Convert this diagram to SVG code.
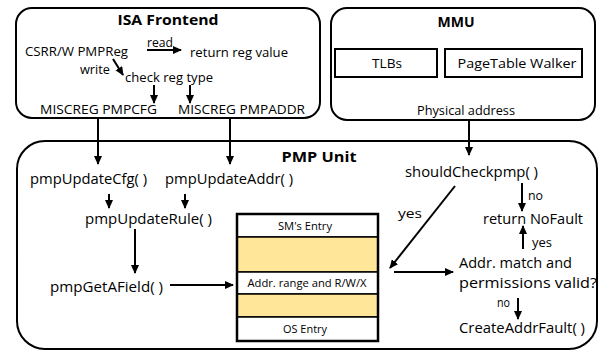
<svg xmlns="http://www.w3.org/2000/svg" width="600" height="352" viewBox="0 0 600 352">
<style>
.box{fill:#fff;stroke:#000;stroke-width:2}
.t{font-family:"Open Sans","Liberation Sans",sans-serif;fill:#000}
.s13{font-size:13px}
.s14{font-size:14px}
.s11{font-size:10.5px}
.b{font-weight:bold;font-size:15px}
.c{stroke:#000;stroke-width:2;fill:none;marker-end:url(#ah)}
.row{fill:#fff;stroke:#000;stroke-width:1.5}
.yel{fill:#FFE699;stroke:#000;stroke-width:1.5}
</style>
<defs>
<marker id="ah" markerUnits="userSpaceOnUse" markerWidth="9" markerHeight="8" refX="8" refY="4" orient="auto">
<path d="M0,0 L9,4 L0,8 Z" fill="#000"/>
</marker>
</defs>
<rect x="0" y="0" width="600" height="352" fill="#fff"/>

<g id="isa-frontend">
<rect class="box" x="16" y="8" width="304" height="110" rx="16"/>
<text class="t b" x="168" y="25" text-anchor="middle" textLength="101" lengthAdjust="spacingAndGlyphs">ISA Frontend</text>
<text class="t s13" x="25" y="56" textLength="103" lengthAdjust="spacingAndGlyphs">CSRR/W PMPReg</text>
<text class="t s13" x="147" y="47" textLength="26" lengthAdjust="spacingAndGlyphs">read</text>
<text class="t s13" x="190" y="57" textLength="98" lengthAdjust="spacingAndGlyphs">return reg value</text>
<text class="t" style="font-size:12.5px" x="80" y="74" textLength="30" lengthAdjust="spacingAndGlyphs">write</text>
<text class="t s13" x="125" y="82" textLength="88" lengthAdjust="spacingAndGlyphs">check reg type</text>
<text class="t s13" x="40" y="114" textLength="117" lengthAdjust="spacingAndGlyphs">MISCREG  PMPCFG</text>
<text class="t s13" x="178" y="114" textLength="127" lengthAdjust="spacingAndGlyphs">MISCREG  PMPADDR</text>
</g>

<g id="mmu">
<rect class="box" x="331" y="8" width="264" height="112" rx="16"/>
<text class="t b" x="456" y="27" text-anchor="middle" textLength="37" lengthAdjust="spacingAndGlyphs">MMU</text>
<g id="tlbs">
<rect x="335" y="49" width="102" height="28" fill="#fff" stroke="#000" stroke-width="2"/>
<text class="t s13" x="387" y="68" text-anchor="middle" textLength="30" lengthAdjust="spacingAndGlyphs">TLBs</text>
</g>
<g id="pagetable-walker">
<rect x="445" y="49" width="137" height="28" fill="#fff" stroke="#000" stroke-width="2"/>
<text class="t s13" x="517" y="68" text-anchor="middle" textLength="119" lengthAdjust="spacingAndGlyphs">PageTable  Walker</text>
</g>
<text class="t s13" x="466" y="115" text-anchor="middle" textLength="98" lengthAdjust="spacingAndGlyphs">Physical address</text>
</g>

<g id="pmp-unit">
<rect class="box" x="17" y="141" width="580" height="208" rx="28"/>
<text class="t b" x="319" y="162" text-anchor="middle" textLength="75" lengthAdjust="spacingAndGlyphs">PMP Unit</text>
</g>

<g id="pmpUpdateCfg"><text class="t s14" x="30" y="184" textLength="117" lengthAdjust="spacingAndGlyphs">pmpUpdateCfg( )</text></g>
<g id="pmpUpdateAddr"><text class="t s14" x="165" y="184" textLength="128" lengthAdjust="spacingAndGlyphs">pmpUpdateAddr( )</text></g>
<g id="pmpUpdateRule"><text class="t s14" x="85" y="224" textLength="127" lengthAdjust="spacingAndGlyphs">pmpUpdateRule( )</text></g>
<g id="pmpGetAField"><text class="t s14" x="50" y="292" textLength="113" lengthAdjust="spacingAndGlyphs">pmpGetAField( )</text></g>

<g id="pmp-table">
<rect class="row" x="237" y="214" width="141" height="23"/>
<rect class="yel" x="237" y="237" width="141" height="35"/>
<rect class="row" x="237" y="272" width="141" height="22"/>
<rect class="yel" x="237" y="294" width="141" height="23"/>
<rect class="row" x="237" y="317" width="141" height="24"/>
<rect x="237" y="214" width="141" height="127" fill="none" stroke="#000" stroke-width="2.5"/>
<text class="t s11" x="305" y="230" text-anchor="middle" textLength="54" lengthAdjust="spacingAndGlyphs">SM's Entry</text>
<text class="t s11" x="307" y="287" text-anchor="middle" textLength="119" lengthAdjust="spacingAndGlyphs">Addr. range and R/W/X</text>
<text class="t s11" x="305" y="333" text-anchor="middle" textLength="44" lengthAdjust="spacingAndGlyphs">OS Entry</text>
</g>

<g id="shouldCheckpmp"><text class="t s14" x="405" y="177" textLength="133" lengthAdjust="spacingAndGlyphs">shouldCheckpmp( )</text></g>
<g id="return-nofault"><text class="t s14" x="483" y="224" textLength="100" lengthAdjust="spacingAndGlyphs">return  NoFault</text></g>
<g id="addr-match">
<text class="t s14" x="459" y="268" textLength="113" lengthAdjust="spacingAndGlyphs">Addr. match and</text>
<text class="t s14" x="459" y="288" textLength="138" lengthAdjust="spacingAndGlyphs">permissions valid?</text>
</g>
<g id="create-fault"><text class="t s14" x="459" y="333" textLength="126" lengthAdjust="spacingAndGlyphs">CreateAddrFault( )</text></g>

<g id="connectors">
<line class="c" x1="147" y1="50" x2="181" y2="50"/>
<line class="c" x1="113" y1="59" x2="123" y2="75"/>
<line class="c" x1="154" y1="85" x2="154" y2="103"/>
<line class="c" x1="190" y1="85" x2="190" y2="103"/>
<line class="c" x1="98" y1="118" x2="98" y2="164"/>
<line class="c" x1="230" y1="118" x2="230" y2="164"/>
<line class="c" x1="469" y1="120" x2="469" y2="155"/>
<line class="c" x1="109" y1="194" x2="109" y2="208"/>
<line class="c" x1="185" y1="194" x2="185" y2="208"/>
<line class="c" x1="135" y1="229" x2="135" y2="273"/>
<line class="c" x1="170" y1="285" x2="233" y2="285"/>
<line class="c" x1="522" y1="183" x2="522" y2="211"/>
<line class="c" x1="455" y1="186" x2="390" y2="268"/>
<line class="c" x1="523" y1="249" x2="523" y2="226"/>
<line class="c" x1="394" y1="272" x2="453" y2="272"/>
<line class="c" x1="518" y1="298" x2="518" y2="319"/>
<text class="t s13" x="528" y="200" textLength="15" lengthAdjust="spacingAndGlyphs">no</text>
<text class="t s13" x="398" y="218" textLength="24" lengthAdjust="spacingAndGlyphs">yes</text>
<text class="t s13" x="532" y="247" textLength="20" lengthAdjust="spacingAndGlyphs">yes</text>
<text class="t s13" x="497" y="307" textLength="13" lengthAdjust="spacingAndGlyphs">no</text>
</g>
</svg>
